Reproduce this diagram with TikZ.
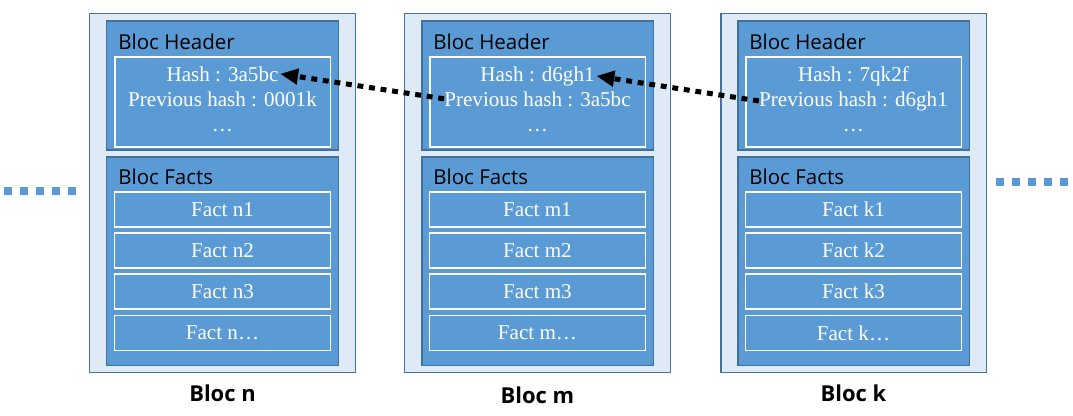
\documentclass[tikz,border=0pt]{standalone}
\usepackage{xcolor}
\usepackage{fontspec}
\setmainfont{Liberation Serif}
\newfontfamily\hdrfont{Open Sans}
\usepackage{tikz}
\usetikzlibrary{arrows.meta}

\definecolor{bloclight}{HTML}{DEEBF7}
\definecolor{blocblue}{HTML}{5B9BD5}
\definecolor{blocline}{HTML}{41719C}

\tikzset{
	blocbox/.style={draw=blocline, fill=bloclight, line width=0.75pt, inner sep=0, minimum width=6.625cm, minimum height=8.95cm},
	partbox/.style={draw=blocline, fill=blocblue, line width=0.75pt, inner sep=0, minimum width=5.775cm},
	factbox/.style={draw=white, fill=blocblue, line width=0.75pt, inner sep=0, minimum width=5.4cm, minimum height=0.875cm, text=white, font=\fontsize{15}{18}\selectfont},
	partlabel/.style={anchor=west, inner sep=0, font=\hdrfont\fontsize{14.6}{17}\selectfont},
	hashline/.style={anchor=base, inner sep=0, text=white, font=\fontsize{15}{18}\selectfont},
	bloclabel/.style={anchor=base, inner sep=0, font=\hdrfont\bfseries\fontsize{15.6}{18}\selectfont},
	linkarrow/.style={line width=3.6pt, dash pattern=on 4.2pt off 4.1pt, -{Triangle[length=0.45cm, width=0.38cm]}},
	chaindots/.style={draw=blocblue, line width=0.2cm, dash pattern=on 0.2cm off 0.2cm}
}

\begin{document}
\begin{tikzpicture}[x=0.025cm, y=-0.025cm]
	\useasboundingbox (0, 0) rectangle (1073, 415);
	% Bloc n:
	\node[blocbox] (BlocN) at (222.5, 193) {};
	\node[partbox, minimum height=3.225cm] (HeadN) at (222.5, 85.5) {};
	\node[partlabel] at (118, 42) {Bloc Header};
	\node[factbox, minimum width=5.375cm, minimum height=2.25cm] (HashBoxN) at (222.5, 102) {};
	\node[hashline] (HashN) at (222.5, 81) {Hash : 3a5bc};
	\node[hashline] (PrevN) at (222.5, 106) {Previous hash : 0001k};
	\node[hashline] (MoreN) at (222.5, 131) {…};
	\node[partbox, minimum height=5.2cm] (FactsN) at (222.5, 261) {};
	\node[partlabel] at (118, 177) {Bloc Facts};
	\node[factbox] (FactN1) at (222.5, 209.5) {Fact n1};
	\node[factbox] (FactN2) at (222.5, 250.5) {Fact n2};
	\node[factbox] (FactN3) at (222.5, 291.5) {Fact n3};
	\node[factbox] (FactN4) at (222.5, 333) {Fact n…};
	\node[bloclabel] (LabelN) at (222.5, 401) {Bloc n};
	% Bloc m:
	\node[blocbox] (BlocM) at (537.5, 193) {};
	\node[partbox, minimum height=3.225cm] (HeadM) at (537.5, 85.5) {};
	\node[partlabel] at (433, 42) {Bloc Header};
	\node[factbox, minimum width=5.375cm, minimum height=2.25cm] (HashBoxM) at (537.5, 102) {};
	\node[hashline] (HashM) at (537.5, 81) {Hash : d6gh1};
	\node[hashline] (PrevM) at (537.5, 106) {Previous hash : 3a5bc};
	\node[hashline] (MoreM) at (537.5, 131) {…};
	\node[partbox, minimum height=5.2cm] (FactsM) at (537.5, 261) {};
	\node[partlabel] at (433, 177) {Bloc Facts};
	\node[factbox] (FactM1) at (537.5, 209.5) {Fact m1};
	\node[factbox] (FactM2) at (537.5, 250.5) {Fact m2};
	\node[factbox] (FactM3) at (537.5, 291.5) {Fact m3};
	\node[factbox] (FactM4) at (537.5, 333) {Fact m…};
	\node[bloclabel] (LabelM) at (537.5, 403) {Bloc m};
	% Bloc k:
	\node[blocbox] (BlocK) at (853.5, 193) {};
	\node[partbox, minimum height=3.225cm] (HeadK) at (853.5, 85.5) {};
	\node[partlabel] at (749, 42) {Bloc Header};
	\node[factbox, minimum width=5.375cm, minimum height=2.25cm] (HashBoxK) at (853.5, 102) {};
	\node[hashline] (HashK) at (853.5, 81) {Hash : 7qk2f};
	\node[hashline] (PrevK) at (853.5, 106) {Previous hash : d6gh1};
	\node[hashline] (MoreK) at (853.5, 131) {…};
	\node[partbox, minimum height=5.2cm] (FactsK) at (853.5, 261) {};
	\node[partlabel] at (749, 177) {Bloc Facts};
	\node[factbox] (FactK1) at (853.5, 209.5) {Fact k1};
	\node[factbox] (FactK2) at (853.5, 250.5) {Fact k2};
	\node[factbox] (FactK3) at (853.5, 291.5) {Fact k3};
	\node[factbox] (FactK4) at (853.5, 333) {Fact k…};
	\node[bloclabel] (LabelK) at (853.5, 401) {Bloc k};
	% Links between blocs:
	\draw[linkarrow] (PrevM.west) -- ([xshift=1pt]HashN.east);
	\draw[linkarrow] (PrevK.west) -- ([xshift=1pt]HashM.east);
	% Chain continues:
	\coordinate (ChainL1) at (4, 190.5);
	\coordinate (ChainL2) at (80, 190.5);
	\coordinate (ChainR1) at (996, 181.5);
	\coordinate (ChainR2) at (1072, 181.5);
	\draw[chaindots] (ChainL1) -- (ChainL2);
	\draw[chaindots] (ChainR1) -- (ChainR2);
\end{tikzpicture}
\end{document}
